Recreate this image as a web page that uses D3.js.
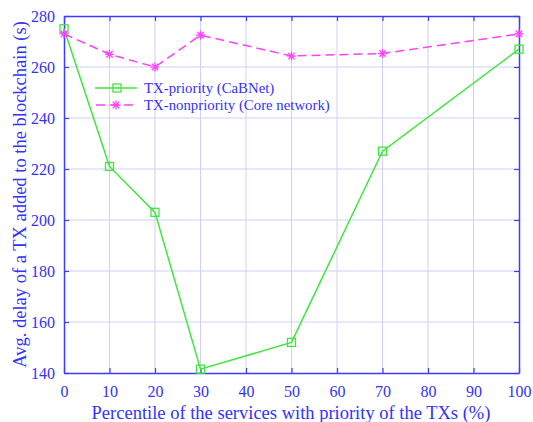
<!DOCTYPE html>
<html><head><meta charset="utf-8">
<script src="https://cdn.jsdelivr.net/npm/d3@7"></script>
<style>body{margin:0;background:#fff}svg{display:block}text{font-family:"Liberation Serif","Times New Roman",Times,serif}</style>
</head><body>
<script>
const xValues = [0, 10, 20, 30, 50, 70, 100];
const priority = [275, 221, 203, 141.5, 152, 227, 267];
const nonpriority = [273, 265, 260, 272.5, 264.3, 265.3, 273];
const xTicks = [0,10,20,30,40,50,60,70,80,90,100];
const yTicks = [140,160,180,200,220,240,260,280];
const seriesNames = ["TX-priority (CaBNet)", "TX-nonpriority (Core network)"];

const W = 533, H = 422;
const m = {l:64, r:519, t:16, b:373};
const axisColor = "#3c3cff", textColor = "#3232ff", gridColor = "#d0d0fa";
const green = "#3ee63e", magenta = "#ff40ff";
const FONT = "Liberation Serif";

const svg = d3.select("body").append("svg").attr("width", W).attr("height", H);
const x = d3.scaleLinear().domain([0,100]).range([m.l, m.r]);
const y = d3.scaleLinear().domain([140,280]).range([m.b, m.t]);

// grid
svg.append("g").selectAll("line").data(xTicks.slice(1,-1)).join("line")
  .attr("x1", d=>x(d)).attr("x2", d=>x(d)).attr("y1", m.t).attr("y2", m.b)
  .attr("stroke", gridColor).attr("stroke-width", 1);
svg.append("g").selectAll("line").data(yTicks.slice(1,-1)).join("line")
  .attr("y1", d=>y(d)).attr("y2", d=>y(d)).attr("x1", m.l).attr("x2", m.r)
  .attr("stroke", gridColor).attr("stroke-width", 1);

// axes with inward ticks
const axB = svg.append("g").attr("transform", `translate(0,${m.b})`)
  .call(d3.axisBottom(x).tickValues(xTicks).tickSizeInner(-5).tickSizeOuter(0).tickPadding(13));
const axT = svg.append("g").attr("transform", `translate(0,${m.t})`)
  .call(d3.axisTop(x).tickValues(xTicks).tickSizeInner(-5).tickSizeOuter(0).tickFormat(""));
const axL = svg.append("g").attr("transform", `translate(${m.l},0)`)
  .call(d3.axisLeft(y).tickValues(yTicks).tickSizeInner(-5).tickSizeOuter(0).tickPadding(9));
const axR = svg.append("g").attr("transform", `translate(${m.r},0)`)
  .call(d3.axisRight(y).tickValues(yTicks).tickSizeInner(-5).tickSizeOuter(0).tickFormat(""));
[axB, axT, axL, axR].forEach(g => {
  g.attr("font-family", FONT);
  g.selectAll("path").attr("stroke", axisColor).attr("stroke-width", 1.5);
  g.selectAll("line").attr("stroke", axisColor).attr("stroke-width", 1.2);
  g.selectAll("text").attr("fill", textColor).attr("font-family", FONT).style("font-size", "16px");
});

// lines
const line = d3.line().x((d,i)=>x(xValues[i])).y(d=>y(d));
svg.append("path").datum(priority).attr("d", line).attr("fill","none")
  .attr("stroke", green).attr("stroke-width", 1.5);
svg.append("path").datum(nonpriority).attr("d", line).attr("fill","none")
  .attr("stroke", magenta).attr("stroke-width", 1.5).attr("stroke-dasharray", "9,5");

function square(g, cx, cy) {
  g.append("rect").attr("x", cx-4).attr("y", cy-4).attr("width", 8).attr("height", 8)
    .attr("fill","none").attr("stroke", green).attr("stroke-width", 1.3);
}
function star(g, cx, cy) {
  const r = 4.5;
  [0,45,90,135].forEach(a => {
    const rad = a*Math.PI/180;
    g.append("line").attr("x1", cx - r*Math.cos(rad)).attr("y1", cy - r*Math.sin(rad))
      .attr("x2", cx + r*Math.cos(rad)).attr("y2", cy + r*Math.sin(rad))
      .attr("stroke", magenta).attr("stroke-width", 1.3);
  });
}
const mk = svg.append("g");
priority.forEach((v,i) => square(mk, x(xValues[i]), y(v)));
nonpriority.forEach((v,i) => star(mk, x(xValues[i]), y(v)));

// legend
const lg = svg.append("g");
lg.append("line").attr("x1",95).attr("x2",137).attr("y1",88).attr("y2",88).attr("stroke",green).attr("stroke-width",1.5);
square(lg, 117, 88);
lg.append("line").attr("x1",95).attr("x2",137).attr("y1",105).attr("y2",105).attr("stroke",magenta).attr("stroke-width",1.5).attr("stroke-dasharray","9,5").attr("stroke-dashoffset", -1);
star(lg, 116, 105);
lg.selectAll("text.l").data(seriesNames).join("text")
  .attr("x", 144).attr("y", (d,i)=> 88 + i*17).attr("dy","0.35em")
  .attr("fill", textColor).attr("font-family", FONT).style("font-size","14.8px").text(d=>d);

// axis labels
svg.append("text").attr("x", (93+489)/2).attr("y", 419).attr("text-anchor","middle")
  .attr("fill", textColor).attr("font-family", FONT).style("font-size","18.5px")
  .text("Percentile of the services with priority of the TXs (%)");
svg.append("text").attr("transform", `translate(26,${(m.t+m.b)/2}) rotate(-90)`)
  .attr("text-anchor","middle").attr("fill", textColor).attr("font-family", FONT).style("font-size","18.5px")
  .text("Avg. delay of a TX added to the blockchain (s)");
</script>
</body></html>
